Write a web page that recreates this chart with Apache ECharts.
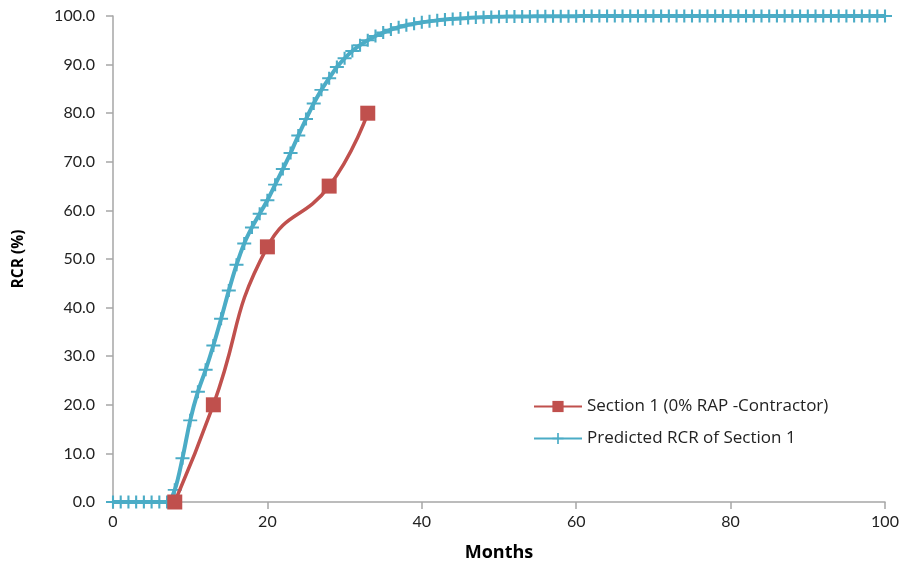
<!DOCTYPE html>
<html><head><meta charset="utf-8">
<script src="https://cdn.jsdelivr.net/npm/echarts@6/dist/echarts.min.js"></script>
<style>html,body{margin:0;padding:0;background:#fff}#c{width:905px;height:567px}</style>
</head><body><div id="c"></div>
<script>
const sectionMonths = [8, 13, 20, 28, 33];
const sectionValues = [0, 20, 52.5, 65, 80];
const predictedMonths = [];
for (let m = 0; m <= 100; m++) predictedMonths.push(m);
const predictedValues = [
  0, 0, 0, 0, 0, 0, 0, 0, 2.5, 9, 16.8,
  22.7, 27.2, 32.2, 37.7, 43.5, 48.8, 53.2, 56.5, 59.3, 62.1,
  65.3, 68.5, 71.8, 75.4, 78.8, 82, 84.8, 87.2, 89.5, 91.3,
  92.8, 94, 95, 95.9, 96.6, 97.2, 97.7, 98.1, 98.4, 98.7,
  98.9, 99.1, 99.3, 99.4, 99.5, 99.6, 99.7, 99.75, 99.8, 99.85,
  99.88, 99.9, 99.9, 99.92, 99.93, 99.94, 99.95, 99.96, 99.97, 99.97,
  99.98, 99.98, 99.98, 99.99, 99.99, 99.99, 99.99, 99.99, 100, 100,
  100, 100, 100, 100, 100, 100, 100, 100, 100, 100,
  100, 100, 100, 100, 100, 100, 100, 100, 100, 100,
  100, 100, 100, 100, 100, 100, 100, 100, 100, 100
];
const xTicks = [0, 20, 40, 60, 80, 100];
const yTicks = [0, 10, 20, 30, 40, 50, 60, 70, 80, 90, 100];
const seriesNames = ['Section 1 (0% RAP -Contractor)', 'Predicted RCR of Section 1'];

const font = 'Lato, "Open Sans", sans-serif';
const font2 = '"Open Sans", Lato, sans-serif';
const plus = 'path://M-1.5,-10 L1.5,-10 L1.5,10 L-1.5,10 Z M-10,-1.5 L10,-1.5 L10,1.5 L-10,1.5 Z';
const chart = echarts.init(document.getElementById('c'));
chart.setOption({
  animation: false,
  grid: {left: 113, right: 20, top: 16, bottom: 64},
  legend: {
    orient: 'vertical', left: 528, top: 393, itemGap: 15,
    itemWidth: 48, itemHeight: 14,
    textStyle: {fontFamily: font2, fontSize: 17, color: '#222'},
    data: seriesNames
  },
  xAxis: {
    type: 'value', min: xTicks[0], max: xTicks[xTicks.length - 1], interval: 20,
    name: 'Months', nameLocation: 'middle', nameGap: 42,
    nameTextStyle: {fontFamily: font2, fontSize: 18, fontWeight: 'bold', color: '#000'},
    axisLine: {lineStyle: {color: '#a6a6a6', width: 1.5}},
    axisTick: {show: true, length: 7, lineStyle: {color: '#a6a6a6', width: 1.5}},
    axisLabel: {fontFamily: font, fontSize: 16, color: '#222', margin: 12},
    splitLine: {show: false}
  },
  yAxis: {
    type: 'value', min: yTicks[0], max: yTicks[yTicks.length - 1], interval: 10,
    name: 'RCR (%)', nameLocation: 'middle', nameGap: 86, nameRotate: 90,
    nameTextStyle: {fontFamily: font2, fontSize: 15.5, fontWeight: 'bold', color: '#000'},
    axisLine: {show: true, lineStyle: {color: '#a6a6a6', width: 1.5}},
    axisTick: {show: true, length: 7, lineStyle: {color: '#a6a6a6', width: 1.5}},
    axisLabel: {fontFamily: font, fontSize: 16, color: '#222', margin: 18,
      formatter: v => v.toFixed(1)},
    splitLine: {show: false}
  },
  series: [
    {
      name: seriesNames[1], type: 'line', clip: false,
      data: predictedMonths.map((m, i) => [m, predictedValues[i]]),
      smooth: 0.3,
      symbol: plus, symbolSize: [14, 13],
      itemStyle: {color: '#4bacc6'},
      lineStyle: {color: '#4bacc6', width: 4},
      z: 2
    },
    {
      name: seriesNames[0], type: 'line', clip: false,
      data: sectionMonths.map((m, i) => [m, sectionValues[i]]),
      smooth: 0.5,
      symbol: 'rect', symbolSize: 15,
      itemStyle: {color: '#c0504d'},
      lineStyle: {color: '#c0504d', width: 3.5},
      z: 3
    }
  ]
});
</script></body></html>
